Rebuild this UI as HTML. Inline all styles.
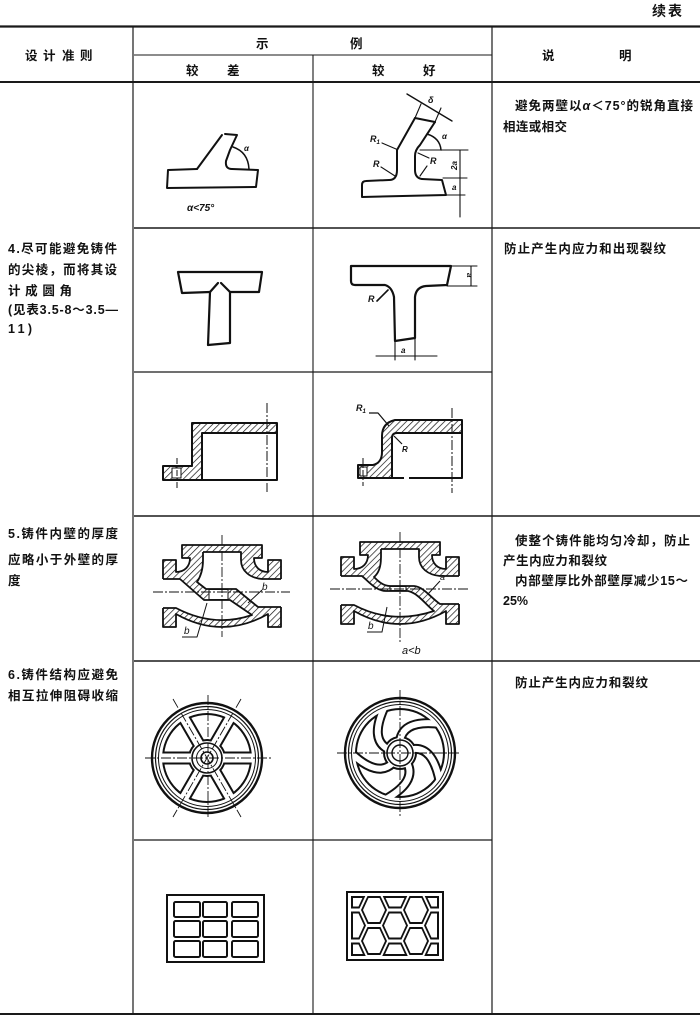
<!DOCTYPE html>
<html><head><meta charset="utf-8"><style>
html,body{margin:0;padding:0;background:#fff;}
svg{display:block;}
text{font-family:"Liberation Sans","Noto Sans CJK SC",sans-serif;fill:#111;}
</style></head><body>
<svg width="700" height="1022" viewBox="0 0 700 1022" xmlns="http://www.w3.org/2000/svg">
<defs>
<pattern id="h" width="4.5" height="4.5" patternUnits="userSpaceOnUse" patternTransform="rotate(45)"><line x1="0" y1="0" x2="0" y2="4.5" stroke="#111" stroke-width="1.4"/></pattern>
<mask id="w1o"><circle cx="207" cy="758" r="45" fill="#fff"/><circle cx="207" cy="758" r="17" fill="#000"/><path d="M157,758 H257 M182,714.7 L232,801.3 M232,714.7 L182,801.3" stroke="#000" stroke-width="9"/></mask>
<mask id="w1i"><circle cx="207" cy="758" r="43" fill="#fff"/><circle cx="207" cy="758" r="19" fill="#000"/><path d="M157,758 H257 M182,714.7 L232,801.3 M232,714.7 L182,801.3" stroke="#000" stroke-width="13"/></mask>
<mask id="w2o"><circle cx="400" cy="753" r="45" fill="#fff"/><circle cx="400" cy="753" r="15" fill="#000"/><path d="M400,741 Q403,719 441,724 M411.4,749.3 Q433,745 440,783 M407,762.7 Q417.5,782 383.7,800.3 M393,762.7 Q377.7,778.7 350,752 M388.6,749.3 Q368.7,739.7 385.4,705.2" fill="none" stroke="#000" stroke-width="6" stroke-linecap="round"/></mask>
<mask id="w2i"><circle cx="400" cy="753" r="43" fill="#fff"/><circle cx="400" cy="753" r="17" fill="#000"/><path d="M400,741 Q403,719 441,724 M411.4,749.3 Q433,745 440,783 M407,762.7 Q417.5,782 383.7,800.3 M393,762.7 Q377.7,778.7 350,752 M388.6,749.3 Q368.7,739.7 385.4,705.2" fill="none" stroke="#000" stroke-width="10" stroke-linecap="round"/></mask>
<clipPath id="cb"><rect x="351" y="896" width="88" height="60"/></clipPath>
<clipPath id="cw"><rect x="353" y="898" width="84" height="56"/></clipPath>
<polygon id="hb" points="-13,0 -6.5,-14 6.5,-14 13,0 6.5,14 -6.5,14"/>
<polygon id="hw" points="-11,0 -5.5,-12 5.5,-12 11,0 5.5,12 -5.5,12"/>
</defs>

<text x="652" y="16" font-size="14" font-weight="bold" textLength="30">续表</text>

<g stroke="#1a1a1a" fill="none">
<line x1="0" y1="26.5" x2="700" y2="26.5" stroke-width="2.2"/>
<line x1="0" y1="82" x2="700" y2="82" stroke-width="2"/>
<line x1="0" y1="1014" x2="700" y2="1014" stroke-width="2"/>
<line x1="133" y1="26" x2="133" y2="1014" stroke-width="1.2"/>
<line x1="492" y1="26" x2="492" y2="1014" stroke-width="1.2"/>
<line x1="313" y1="55" x2="313" y2="1014" stroke-width="1.1"/>
<line x1="134" y1="55" x2="492" y2="55" stroke-width="1.1"/>
<line x1="134" y1="228" x2="700" y2="228" stroke-width="1.4"/>
<line x1="134" y1="372" x2="492" y2="372" stroke-width="1.2"/>
<line x1="134" y1="516" x2="700" y2="516" stroke-width="1.4"/>
<line x1="134" y1="661" x2="700" y2="661" stroke-width="1.4"/>
<line x1="134" y1="840" x2="492" y2="840" stroke-width="1.2"/>
</g>

<g font-size="12.5" font-weight="bold">
<text x="25" y="60">设</text><text x="43" y="60">计</text><text x="62" y="60">准</text><text x="80" y="60">则</text>
<text x="256" y="48">示</text><text x="350" y="48">例</text>
<text x="186" y="75">较</text><text x="227" y="75">差</text>
<text x="372" y="75">较</text><text x="423" y="75">好</text>
<text x="542" y="60">说</text><text x="619" y="60">明</text>
</g>

<g font-size="12.5" font-weight="bold">
<text x="8" y="253" textLength="109">4.尽可能避免铸件</text>
<text x="8" y="274" textLength="109">的尖棱，而将其设</text>
<text x="8" y="295" textLength="64">计成圆角</text>
<text x="8" y="314" textLength="110">(见表3.5-8～3.5—</text>
<text x="8" y="333" textLength="24">11)</text>
<text x="8" y="538" textLength="110">5.铸件内壁的厚度</text>
<text x="8" y="564" textLength="110">应略小于外壁的厚</text>
<text x="8" y="585" textLength="14">度</text>
<text x="8" y="679" textLength="110">6.铸件结构应避免</text>
<text x="8" y="700" textLength="110">相互拉伸阻碍收缩</text>
</g>

<g font-size="12.5" font-weight="bold">
<text x="515" y="110" textLength="178">避免两壁以<tspan font-style="italic">α</tspan>＜75°的锐角直接</text>
<text x="503" y="131" textLength="64">相连或相交</text>
<text x="504" y="253" textLength="162">防止产生内应力和出现裂纹</text>
<text x="515" y="545" textLength="175">使整个铸件能均匀冷却，防止</text>
<text x="503" y="565" textLength="104">产生内应力和裂纹</text>
<text x="515" y="585" textLength="173">内部壁厚比外部壁厚减少15～</text>
<text x="503" y="605" textLength="25">25%</text>
<text x="515" y="687" textLength="133">防止产生内应力和裂纹</text>
</g>

<g fill="none" stroke="#111" stroke-width="2" stroke-linejoin="round" stroke-linecap="round">
<path d="M197,169 L168,170 L167,188 L256,187 L258,170 L232,169"/>
<path d="M197,169 L222,135"/>
<path d="M225,134 L237,135 L230,150 L226,161 Q225,169 232,169"/>
<path d="M233,147 Q248,152 249,169" stroke-width="1.5"/>
</g>
<text x="244" y="151" font-size="8" font-style="italic" font-weight="bold">α</text>
<text x="187" y="211" font-size="10" font-style="italic" font-weight="bold">α&lt;75°</text>

<g fill="none" stroke="#111" stroke-width="2" stroke-linejoin="round" stroke-linecap="round">
<path d="M422,179 L442,180 L446,195 L362,197 L362,185 Q362,181 366,181 L389,180 Q397,180 397,170 L397,150 L415,118"/>
<path d="M415,118 L435,122"/>
<path d="M435,122 L420,145 Q415,150 415,156 L415,170 Q415,178 422,179"/>
<path d="M427,134 Q440,138 441,150" stroke-width="1.5"/>
<g stroke-width="1.1">
<path d="M415,118 L421,104 M435,122 L441,108"/>
<path d="M407,94 L452,121" stroke-width="1.4"/>
<path d="M420,150 L468,150 M443,178 L467,178 M446,195 L465,195 M460,150 L460,217"/>
<path d="M382,143 L396,149 M381,167 L395,176 M418,153 L429,158 M427,166 L420,176"/>
</g>
</g>
<text x="428" y="103" font-size="9" font-style="italic" font-weight="bold">δ</text>
<text x="442" y="139" font-size="8" font-style="italic" font-weight="bold">α</text>
<text transform="translate(457,170) rotate(-90)" font-size="8" font-style="italic" font-weight="bold">2a</text>
<text x="452" y="190" font-size="8" font-style="italic" font-weight="bold">a</text>
<text x="370" y="142" font-size="9" font-style="italic" font-weight="bold">R<tspan font-size="6" dy="2">1</tspan></text>
<text x="373" y="167" font-size="9" font-style="italic" font-weight="bold">R</text>
<text x="430" y="164" font-size="9" font-style="italic" font-weight="bold">R</text>

<g fill="none" stroke="#111" stroke-width="2.2" stroke-linejoin="round" stroke-linecap="round">
<path d="M210,292 L182,293 L178,272 L262,272 L259,292 L230,292"/>
<path d="M210,292 L208,345 L230,343 L230,292"/>
<path d="M210,292 L218,283 M221,283 L230,292"/>
</g>

<g fill="none" stroke="#111" stroke-width="2.2" stroke-linejoin="round" stroke-linecap="round">
<path d="M447,285 L426,286 Q416,287 415,297 L415,338 L395,341 L394,297 Q392,287 385,285 L355,285 Q351,285 351,281 L351,266 L451,266 L447,285"/>
<g stroke-width="1.1">
<path d="M451,266 L477,266 M447,286 L477,286 M471,266 L471,286"/>
<path d="M395,341 L395,360 M415,338 L415,360 M376,356 L437,356"/>
<path d="M377,301 L388,290" stroke-width="1.6"/>
</g>
</g>
<text transform="translate(467,273) rotate(90)" font-size="8" font-style="italic" font-weight="bold">a</text>
<text x="401" y="353" font-size="8" font-style="italic" font-weight="bold">a</text>
<text x="368" y="302" font-size="9" font-style="italic" font-weight="bold">R</text>

<g stroke="#111" stroke-linejoin="round">
<path d="M192,423 H277 V433 H202 V480 H163 V466 H192 Z" fill="url(#h)" stroke-width="2"/>
<path d="M277,433 V480 H202" fill="none" stroke-width="2"/>
<rect x="172" y="468" width="9" height="10" fill="#fff" stroke-width="1"/>
<path d="M177,458 V488" stroke-width="1" stroke-dasharray="6 2 2 2"/>
<path d="M267,403 V492" stroke-width="1" stroke-dasharray="10 2 2 2"/>
</g>

<g stroke="#111" stroke-linejoin="round">
<path d="M395,420 H462 V433 H397 Q392,433 392,438 V478 H358 V465 H373 Q382,463 382,452 V436 Q382,423 395,420 Z" fill="url(#h)" stroke-width="2"/>
<path d="M462,433 V478 H409 M404,478 H392" fill="none" stroke-width="2"/>
<rect x="360" y="467" width="7" height="9" fill="#fff" stroke-width="1"/>
<path d="M363,458 V486" stroke-width="1" stroke-dasharray="6 2 2 2"/>
<path d="M452,408 V493" stroke-width="1" stroke-dasharray="10 2 2 2"/>
<path d="M369,413 H378 L389,426 M394,436 L402,444" fill="none" stroke-width="1.2"/>
</g>
<text x="356" y="411" font-size="9" font-style="italic" font-weight="bold">R<tspan font-size="6" dy="2">1</tspan></text>
<text x="402" y="452" font-size="8" font-style="italic" font-weight="bold">R</text>

<g stroke="#111" stroke-linejoin="round">
<path d="M182,545 H262 V558 H254 C254,566 259,572 268,572 V560 H281 V627 H268 V614 Q222,640 176,614 V627 H163 V560 H176 V572 C185,572 190,566 190,558 H182 Z" fill="url(#h)" stroke-width="1.8"/>
<path d="M203,552 H241 V560 C241,571 250,578 262,579 H285 V607 H258 L236,589 H206 L197,582 C201,576 203,568 203,560 Z" fill="#fff" stroke="none"/>
<path d="M203,552 H241 V560 C241,571 250,578 262,579 H281 M281,607 H258 L236,589 H206 L197,582 C201,576 203,568 203,560 V552" fill="none" stroke-width="1.8"/>
<path d="M161,579 H180 L204,600 H230 L252,615 Q214,628 176,608 H161 Z" fill="#fff" stroke="none"/>
<path d="M163,579 H180 L204,600 H230 L252,615 Q214,628 176,608 H163" fill="none" stroke-width="1.8"/>
<rect x="209" y="589.5" width="19" height="10" fill="#fff" stroke-width="1"/>
<path d="M153,592 H290 M222,535 V637" stroke-width="0.9" stroke-dasharray="10 2 2 2"/>
<path d="M248,603 L262,590 M207,603 L197,637 H182" fill="none" stroke-width="1"/>
</g>
<text x="262" y="590" font-size="10" font-style="italic">b</text>
<text x="184" y="634" font-size="10" font-style="italic">b</text>

<g stroke="#111" stroke-linejoin="round" transform="translate(178,-3)">
<path d="M182,545 H262 V558 H254 C254,566 259,572 268,572 V560 H281 V627 H268 V614 Q222,640 176,614 V627 H163 V560 H176 V572 C185,572 190,566 190,558 H182 Z" fill="url(#h)" stroke-width="1.8"/>
<path d="M203,552 H241 V560 C241,571 250,578 262,579 H285 V607 H262 C252,600 246,590 236,589 H212 C205,589 200,584 196,580 C201,576 203,568 203,560 Z" fill="#fff" stroke="none"/>
<path d="M203,552 H241 V560 C241,571 250,578 262,579 H281 M281,607 H262 C252,600 246,590 236,589 H212 C205,589 200,584 196,580 C201,576 203,568 203,560 V552" fill="none" stroke-width="1.8"/>
<path d="M161,579 H184 C190,584 198,594 208,594 H230 C240,596 248,608 256,614 Q214,628 176,608 H161 Z" fill="#fff" stroke="none"/>
<path d="M163,579 H184 C190,584 198,594 208,594 H230 C240,596 248,608 256,614 Q214,628 176,608 H163" fill="none" stroke-width="1.8"/>
<rect x="212" y="589.5" width="16" height="4" fill="#fff" stroke-width="1"/>
</g>
<g stroke="#111" fill="none">
<path d="M330,589 H470 M400,532 V643" stroke-width="0.9" stroke-dasharray="10 2 2 2"/>
<path d="M428,594 L440,581 M387,607 L382,632 H367" stroke-width="1"/>
</g>
<text x="440" y="580" font-size="9" font-style="italic">a</text>
<text x="368" y="629" font-size="10" font-style="italic">b</text>
<text x="402" y="654" font-size="11" font-style="italic">a&lt;b</text>

<g>
<circle cx="207" cy="758" r="46" fill="#111" mask="url(#w1o)"/>
<circle cx="207" cy="758" r="46" fill="#fff" mask="url(#w1i)"/>
<g fill="none" stroke="#111">
<circle cx="207" cy="758" r="55" stroke-width="2.4"/>
<circle cx="207" cy="758" r="51.5" stroke-width="1.2"/>
<circle cx="207" cy="758" r="48.5" stroke-width="1"/>
<circle cx="207" cy="758" r="15" stroke-width="1.6"/>
<circle cx="207" cy="758" r="10.5" stroke-width="1"/>
<circle cx="207" cy="758" r="6" stroke-width="1.6"/>
<path d="M145,758 H272 M208,695 V818 M173,699 L241,817 M241,699 L173,817" stroke-width="0.9" stroke-dasharray="10 2 2 2"/>
</g>
</g>

<g>
<circle cx="400" cy="753" r="46" fill="#111" mask="url(#w2o)"/>
<circle cx="400" cy="753" r="46" fill="#fff" mask="url(#w2i)"/>
<g fill="none" stroke="#111">
<circle cx="400" cy="753" r="55" stroke-width="2.4"/>
<circle cx="400" cy="753" r="51.5" stroke-width="1.2"/>
<circle cx="400" cy="753" r="48.5" stroke-width="1"/>
<circle cx="400" cy="753" r="13" stroke-width="1.6"/>
<circle cx="400" cy="753" r="8" stroke-width="1.4"/>
<path d="M337,753 H460 M400,690 V818" stroke-width="0.9" stroke-dasharray="10 2 2 2"/>
</g>
</g>

<g fill="none" stroke="#111" stroke-width="2">
<rect x="167" y="895" width="97" height="67"/>
<rect x="174" y="902" width="26" height="15" rx="1.5"/>
<rect x="203" y="902" width="24" height="15" rx="1.5"/>
<rect x="232" y="902" width="26" height="15" rx="1.5"/>
<rect x="174" y="921" width="26" height="16" rx="1.5"/>
<rect x="203" y="921" width="24" height="16" rx="1.5"/>
<rect x="232" y="921" width="26" height="16" rx="1.5"/>
<rect x="174" y="941" width="26" height="16" rx="1.5"/>
<rect x="203" y="941" width="24" height="16" rx="1.5"/>
<rect x="232" y="941" width="26" height="16" rx="1.5"/>
</g>

<rect x="347" y="892" width="96" height="68" fill="none" stroke="#111" stroke-width="2"/>
<g clip-path="url(#cb)" fill="#111">
<use href="#hb" x="353" y="894.5"/><use href="#hb" x="353" y="925.5"/><use href="#hb" x="353" y="956.5"/>
<use href="#hb" x="374" y="910"/><use href="#hb" x="374" y="941"/>
<use href="#hb" x="395" y="894.5"/><use href="#hb" x="395" y="925.5"/><use href="#hb" x="395" y="956.5"/>
<use href="#hb" x="416" y="910"/><use href="#hb" x="416" y="941"/>
<use href="#hb" x="437" y="894.5"/><use href="#hb" x="437" y="925.5"/><use href="#hb" x="437" y="956.5"/>
</g>
<g clip-path="url(#cw)" fill="#fff">
<use href="#hw" x="353" y="894.5"/><use href="#hw" x="353" y="925.5"/><use href="#hw" x="353" y="956.5"/>
<use href="#hw" x="374" y="910"/><use href="#hw" x="374" y="941"/>
<use href="#hw" x="395" y="894.5"/><use href="#hw" x="395" y="925.5"/><use href="#hw" x="395" y="956.5"/>
<use href="#hw" x="416" y="910"/><use href="#hw" x="416" y="941"/>
<use href="#hw" x="437" y="894.5"/><use href="#hw" x="437" y="925.5"/><use href="#hw" x="437" y="956.5"/>
</g>
</svg>
</body></html>
